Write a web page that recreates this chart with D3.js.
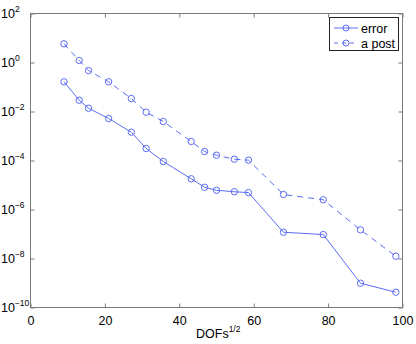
<!DOCTYPE html>
<meta charset="utf-8">
<script src="https://d3js.org/d3.v7.min.js"></script>
<style>
    body { margin: 0; background: #fff; }
    text { font-family: "Liberation Sans", Arial, sans-serif; fill: #000; }
</style>
<div id="chart"></div>
<script>
    // square root of degrees of freedom
    var dofs = [9, 13.1, 15.6, 21, 27.1, 31.1, 35.7, 43.2, 46.8, 50, 54.8, 58.6, 68, 78.7, 88.7, 98.2];
    // true error
    var errorVals = [0.163, 0.0289, 0.0136, 0.00518, 0.00143, 3.09e-4, 9.1e-5, 1.79e-5, 8.1e-6,
        6.1e-6, 5.3e-6, 4.9e-6, 1.18e-7, 9.5e-8, 9.8e-10, 4.2e-10];
    // a posteriori estimate
    var apostVals = [5.8, 1.21, 0.47, 0.163, 0.034, 0.00935, 0.0039, 5.97e-4, 2.33e-4,
        1.64e-4, 1.13e-4, 1.03e-4, 4.1e-6, 2.49e-6, 1.48e-7, 1.24e-8];
    var xTicks = [0, 20, 40, 60, 80, 100];
    var yExps = [2, 0, -2, -4, -6, -8, -10];
    var seriesNames = ["error", "a post"];

    var W = 416, H = 344;
    var pl = 30.5, pr = 402.5, pt = 13.5, pb = 307.5;
    var blue = "#5b6cf2", axisCol = "#7a7a7a";

    var svg = d3.select("#chart").append("svg")
        .attr("width", W)
        .attr("height", H);

    var x = d3.scaleLinear().domain([0, 100]).range([pl, pr]);
    var y = d3.scaleLog().domain([1e-10, 1e2]).range([pb, pt]);

    // frame
    svg.append("rect")
        .attr("x", pl).attr("y", pt)
        .attr("width", pr - pl).attr("height", pb - pt)
        .attr("fill", "none").attr("stroke", axisCol).attr("stroke-width", 1);

    // x axis (bottom with labels, top ticks only)
    var xb = svg.append("g")
        .attr("transform", "translate(0," + pb + ")")
        .call(d3.axisBottom(x).tickValues(xTicks).tickSizeInner(-4).tickSizeOuter(0).tickPadding(9));
    xb.select(".domain").remove();
    xb.selectAll("line").attr("stroke", axisCol);
    xb.selectAll("text").style("font-size", "12.5px").attr("fill", "#000");

    var xt = svg.append("g")
        .attr("transform", "translate(0," + pt + ")")
        .call(d3.axisTop(x).tickValues(xTicks).tickSizeInner(-4).tickSizeOuter(0).tickFormat(""));
    xt.select(".domain").remove();
    xt.selectAll("line").attr("stroke", axisCol);

    // y axis ticks (left and right)
    var yTickVals = yExps.map(function(e) { return Math.pow(10, e); });
    var yl = svg.append("g")
        .attr("transform", "translate(" + pl + ",0)")
        .call(d3.axisLeft(y).tickValues(yTickVals).tickSizeInner(-4).tickSizeOuter(0).tickFormat(""));
    yl.select(".domain").remove();
    yl.selectAll("line").attr("stroke", axisCol);

    var yr = svg.append("g")
        .attr("transform", "translate(" + pr + ",0)")
        .call(d3.axisRight(y).tickValues(yTickVals).tickSizeInner(-4).tickSizeOuter(0).tickFormat(""));
    yr.select(".domain").remove();
    yr.selectAll("line").attr("stroke", axisCol);

    // y tick labels as 10^e
    var ylab = svg.append("g").selectAll("text")
        .data(yExps)
        .enter()
        .append("text")
        .attr("x", 1)
        .attr("y", function(d) { return y(Math.pow(10, d)) + 4.5; })
        .style("font-size", "12.5px");
    ylab.append("tspan").text("10");
    ylab.append("tspan")
        .attr("dy", -6)
        .style("font-size", "8.5px")
        .text(function(d) { return d < 0 ? "\u2212" + (-d) : d; });

    // x label
    var xl = svg.append("text")
        .attr("x", 196)
        .attr("y", 338)
        .style("font-size", "12.5px");
    xl.append("tspan").text("DOFs");
    xl.append("tspan").attr("dy", -6).style("font-size", "8.5px").text("1/2");

    var line = d3.line()
        .x(function(d) { return x(d[0]); })
        .y(function(d) { return y(d[1]); });

    var series = [
        { name: seriesNames[0], vals: errorVals, dash: null },
        { name: seriesNames[1], vals: apostVals, dash: "6,5" }
    ];

    series.forEach(function(s) {
        var pts = dofs.map(function(d, i) { return [d, s.vals[i]]; });
        svg.append("path")
            .datum(pts)
            .attr("d", line)
            .attr("fill", "none")
            .attr("stroke", blue)
            .attr("stroke-width", 1)
            .attr("stroke-dasharray", s.dash);
        svg.append("g").selectAll("circle")
            .data(pts)
            .enter()
            .append("circle")
            .attr("cx", function(d) { return x(d[0]); })
            .attr("cy", function(d) { return y(d[1]); })
            .attr("r", 3.2)
            .attr("fill", "none")
            .attr("stroke", blue)
            .attr("stroke-width", 1);
    });

    // legend
    var lg = svg.append("g");
    lg.append("rect")
        .attr("x", 329.5).attr("y", 17.5)
        .attr("width", 69).attr("height", 33)
        .attr("fill", "#fff").attr("stroke", "#222").attr("stroke-width", 1);
    series.forEach(function(s, i) {
        var ly = 28 + i * 15;
        lg.append("line")
            .attr("x1", 334).attr("x2", 358)
            .attr("y1", ly).attr("y2", ly)
            .attr("stroke", blue).attr("stroke-width", 1)
            .attr("stroke-dasharray", s.dash ? "4,4" : null);
        lg.append("circle")
            .attr("cx", 346).attr("cy", ly).attr("r", 3)
            .attr("fill", "none").attr("stroke", blue);
        lg.append("text")
            .attr("x", 361).attr("y", ly + 4.5)
            .style("font-size", "12.5px")
            .text(s.name);
    });
</script>
